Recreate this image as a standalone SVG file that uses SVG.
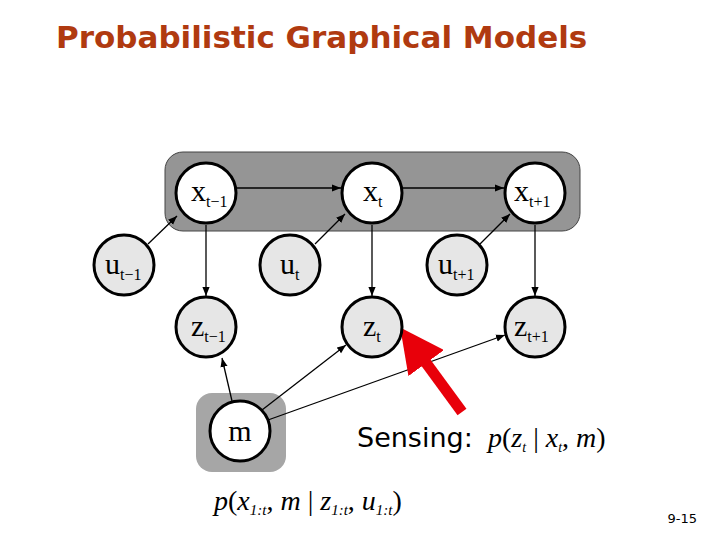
<svg xmlns="http://www.w3.org/2000/svg" width="720" height="540" viewBox="0 0 720 540">
<style>
.n{stroke:#000;stroke-width:3}
.w{fill:#fff}.g{fill:#e6e6e6}
.l{font-family:"Liberation Serif",serif;font-size:30px}
.s{font-family:"Liberation Serif",serif;font-size:16px}
.e{stroke:#000;stroke-width:1.3;fill:none;marker-end:url(#a)}
.m{font-family:"Liberation Serif",serif;font-style:italic;font-size:28px}
</style>
<defs><marker id="a" viewBox="0 0 10 10" refX="10" refY="5" markerWidth="9" markerHeight="9" markerUnits="userSpaceOnUse" orient="auto"><path d="M0,1L10,5L0,9z"/></marker>
<marker id="r" viewBox="0 0 10 10" refX="2" refY="5" markerWidth="4" markerHeight="4" orient="auto"><path d="M0,0L10,5L0,10z" fill="#e8000a"/></marker></defs>
<rect width="720" height="540" fill="#fff"/>
<text x="56" y="48" font-family="Verdana,'DejaVu Sans',sans-serif" font-weight="bold" font-size="31" fill="#b03a10">Probabilistic Graphical Models</text>
<rect x="165" y="152" width="415" height="79" rx="18" fill="#959595" stroke="#444" stroke-width="1"/>
<rect x="196" y="393" width="90" height="79" rx="16" fill="#a6a6a6"/>
<g id="connectors">
<path class="e" d="M237,188H341"/><path class="e" d="M403,188H504"/>
<path class="e" d="M148,244L177,216"/><path class="e" d="M315,244L345,214"/><path class="e" d="M480,244L510,214"/>
<path class="e" d="M206,225V296"/><path class="e" d="M372,225V296"/><path class="e" d="M535,225V296"/>
<path class="e" d="M232,401L222,358"/><path class="e" d="M262,410L346,345"/><path class="e" d="M268,420L505,335"/>
<path d="M462,412L421,356" stroke="#e8000a" stroke-width="11" marker-end="url(#r)"/>
</g>
<g id="x1"><circle class="n w" cx="206" cy="193" r="30"/><text class="l" x="191" y="201">x<tspan class="s" dy="6">t−1</tspan></text></g>
<g id="x2"><circle class="n w" cx="372" cy="193" r="30"/><text class="l" x="363" y="201">x<tspan class="s" dy="6">t</tspan></text></g>
<g id="x3"><circle class="n w" cx="535" cy="193" r="30"/><text class="l" x="514" y="201">x<tspan class="s" dy="6">t+1</tspan></text></g>
<g id="u1"><circle class="n g" cx="124" cy="265" r="30"/><text class="l" x="105" y="274">u<tspan class="s" dy="6">t−1</tspan></text></g>
<g id="u2"><circle class="n g" cx="290" cy="265" r="30"/><text class="l" x="280" y="274">u<tspan class="s" dy="6">t</tspan></text></g>
<g id="u3"><circle class="n g" cx="457" cy="265" r="30"/><text class="l" x="438" y="274">u<tspan class="s" dy="6">t+1</tspan></text></g>
<g id="z1"><circle class="n g" cx="206" cy="327" r="30"/><text class="l" x="191" y="336">z<tspan class="s" dy="6">t−1</tspan></text></g>
<g id="z2"><circle class="n g" cx="372" cy="327" r="30"/><text class="l" x="363" y="336">z<tspan class="s" dy="6">t</tspan></text></g>
<g id="z3"><circle class="n g" cx="535" cy="327" r="30"/><text class="l" x="514" y="336">z<tspan class="s" dy="6">t+1</tspan></text></g>
<g id="m"><circle class="n w" cx="240" cy="431" r="30"/><text class="l" x="240" y="441" text-anchor="middle">m</text></g>
<text x="357" y="447" font-family="Verdana,'DejaVu Sans',sans-serif" font-size="27">Sensing:</text>
<text class="m" x="488" y="447">p<tspan font-style="normal">(</tspan>z<tspan font-size="14" dy="5">t</tspan><tspan dy="-5" font-style="normal"> | </tspan>x<tspan font-size="14" dy="5">t</tspan><tspan dy="-5" font-style="normal">, </tspan>m<tspan font-style="normal">)</tspan></text>
<text class="m" x="214" y="510">p<tspan font-style="normal">(</tspan>x<tspan font-size="15" dy="5">1:t</tspan><tspan dy="-5" font-style="normal">, </tspan>m<tspan font-style="normal"> | </tspan>z<tspan font-size="15" dy="5">1:t</tspan><tspan dy="-5" font-style="normal">, </tspan>u<tspan font-size="15" dy="5">1:t</tspan><tspan dy="-5" font-style="normal">)</tspan></text>
<text x="697" y="523" text-anchor="end" font-family="Verdana,'DejaVu Sans',sans-serif" font-size="13">9-15</text>
</svg>
